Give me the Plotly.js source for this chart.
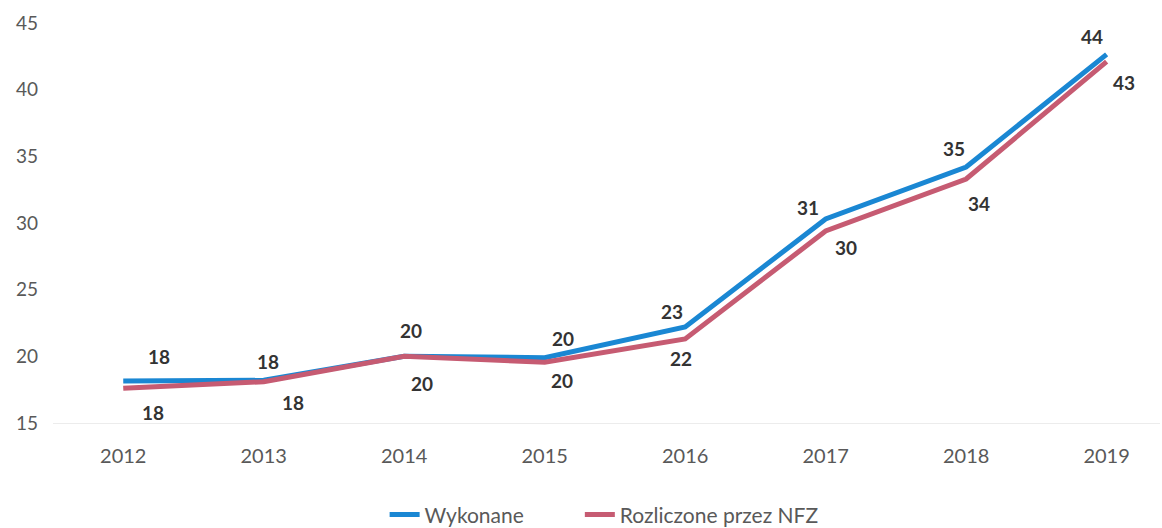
<!DOCTYPE html>
<html>
<head>
<meta charset="utf-8">
<script src="https://cdn.plot.ly/plotly-3.0.1.min.js"></script>
<style>html,body{margin:0;padding:0;background:#fff}#chart{width:1162px;height:528px}</style>
</head>
<body>
<div id="chart"></div>
<script>
// Data
const years = ["2012","2013","2014","2015","2016","2017","2018","2019"];
const wykonane = [18.15, 18.2, 20.0, 19.9, 22.2, 30.3, 34.2, 42.65];
const rozliczone = [17.6, 18.1, 20.0, 19.55, 21.3, 29.4, 33.3, 42.1];
const wykonaneLabels = ["18","18","20","20","23","31","35","44"];
const rozliczoneLabels = ["18","18","20","20","22","30","34","43"];
const seriesNames = ["Wykonane", "Rozliczone przez NFZ"];

// Label placement offsets (styling, in pixels)
const blueOff = [[36,-25],[4,-19],[7,-26],[18,-19],[-13,-16],[-18,-12],[-12,-19],[-15,-18]];
const redOff = [[30,24],[29,21],[18,27],[17,18],[-4,19],[20,16],[13,24],[17,21]];

const FONT = "Lato, 'Open Sans', 'Liberation Sans', sans-serif";
const BLUE = "#1a87d3";
const RED = "#c65b72";

const traces = [
  {x: years, y: wykonane, name: seriesNames[0], type: "scatter", mode: "lines",
   line: {color: BLUE, width: 5}, legend: "legend"},
  {x: years, y: rozliczone, name: seriesNames[1], type: "scatter", mode: "lines",
   line: {color: RED, width: 5}, legend: "legend2"}
];

const annotations = [];
years.forEach((yr, i) => {
  annotations.push({xref: "x", yref: "y", x: i, y: wykonane[i], text: "<b>" + wykonaneLabels[i] + "</b>", showarrow: false,
    xshift: blueOff[i][0], yshift: -blueOff[i][1], font: {family: FONT, size: 19, color: "#333333"}});
  annotations.push({xref: "x", yref: "y", x: i, y: rozliczone[i], text: "<b>" + rozliczoneLabels[i] + "</b>", showarrow: false,
    xshift: redOff[i][0], yshift: -redOff[i][1], font: {family: FONT, size: 19, color: "#333333"}});
});

const legendBase = {orientation: "h", xref: "container", yref: "container", xanchor: "left",
  y: 0.025, yanchor: "middle", font: {family: FONT, size: 21, color: "#595959"}};

const layout = {
  width: 1162, height: 528,
  margin: {l: 53, r: 2, t: 23, b: 105, autoexpand: false},
  paper_bgcolor: "#ffffff", plot_bgcolor: "#ffffff",
  font: {family: FONT, size: 18, color: "#595959"},
  showlegend: true,
  legend: Object.assign({}, legendBase, {x: 0.331}),
  legend2: Object.assign({}, legendBase, {x: 0.499}),
  xaxis: {type: "category", range: [-0.5, 7.38], showgrid: false, zeroline: false,
    showline: true, linecolor: "#ececec", linewidth: 1, ticks: "",
    ticklabelstandoff: 15, tickfont: {family: FONT, size: 20, color: "#595959"}},
  yaxis: {range: [15, 45], tickvals: [15,20,25,30,35,40,45], showgrid: false, zeroline: false,
    showline: false, ticks: "", ticklabelstandoff: 14,
    tickfont: {family: FONT, size: 19, color: "#595959"}},
  annotations: annotations
};

Plotly.newPlot("chart", traces, layout, {displayModeBar: false, staticPlot: true});
</script>
</body>
</html>
